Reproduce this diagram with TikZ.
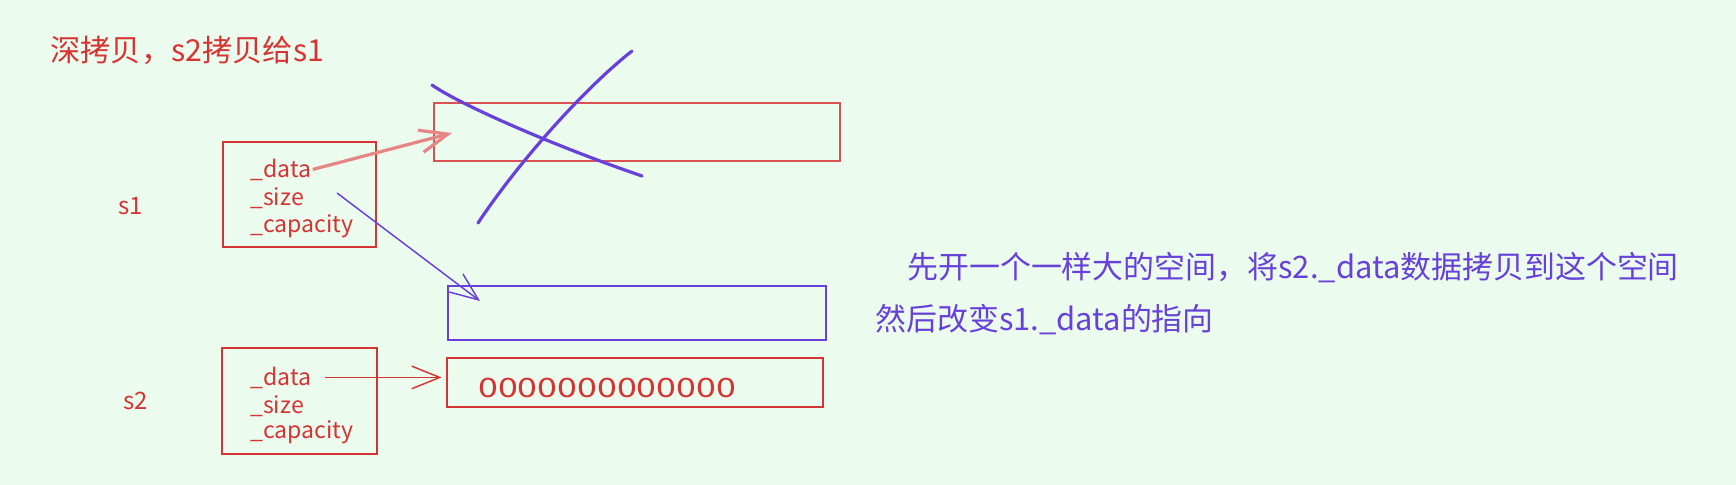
\documentclass[tikz,border=0pt]{standalone}
\usepackage{fontspec}
\usepackage{graphicx}
\setmainfont{Noto Sans CJK SC}
\usetikzlibrary{arrows.meta}
\definecolor{bgc}{HTML}{EBFBEE}
\definecolor{rd}{HTML}{D63333}
\definecolor{pp}{HTML}{6741D9}
\begin{document}
\begin{tikzpicture}[x=0.75pt,y=-0.75pt,
  rbox/.style={draw=rd, line width=1.3pt, inner sep=0pt, outer sep=0pt},
  pbox/.style={draw=pp, line width=1.3pt, inner sep=0pt, outer sep=0pt},
  fld/.style={text=rd, font=\fontsize{17.3}{19}\selectfont, inner sep=0pt, anchor=base west},
  lbl/.style={text=rd, font=\fontsize{18}{20}\selectfont, inner sep=0pt},
  ptxt/.style={text=pp, font=\fontsize{23.2}{26}\selectfont, inner sep=0pt, anchor=base west},
  barb/.style={-{Straight Barb[length=21pt, width=17pt]}},
  cross/.style={draw=pp, line width=2.4pt, line cap=round}
]
\fill[bgc] (0,0) rectangle (1736,485);
\useasboundingbox (0,0) rectangle (1736,485);

% title
\node[text=rd, font=\fontsize{22.7}{25}\selectfont, inner sep=0pt, anchor=west] (title) at (50,50) {深拷贝，s2拷贝给s1};

% labels
\node[lbl] (l1) at (131,206) {s1};
\node[lbl] (l2) at (136,401) {s2};

% s1 struct
\node[rbox, minimum width=114.75pt, minimum height=78.75pt] (s1) at (299.5,194.5) {};
\node[fld] (s1data) at (250,177) {\_data};
\node[fld] (s1size) at (250,205) {\_size};
\node[fld] (s1cap) at (250,232) {\_capacity};

% s2 struct
\node[rbox, minimum width=116.25pt, minimum height=79.5pt] (s2) at (299.5,401) {};
\node[fld] (s2data) at (250,385) {\_data};
\node[fld] (s2size) at (250,413) {\_size};
\node[fld] (s2cap) at (250,438) {\_capacity};

% memory blocks
\node[rbox, draw=rd!85, minimum width=305pt, minimum height=43.5pt] (m1) at (637,132) {};
\node[pbox, minimum width=283.5pt, minimum height=40.5pt] (mn) at (637,313) {};
\node[rbox, minimum width=282pt, minimum height=36.75pt] (m2) at (635,382.5) {};
\node[text=rd, font=\fontsize{20}{22}\selectfont, inner sep=0pt, anchor=base west] (zeros) at (478,397) {\scalebox{1.34}[1]{0000000000000}};

% arrow ends
\coordinate (t1) at (452,133);
\coordinate (p0) at (337,193);
\coordinate (t2) at (480,301);

% connectors
\draw[barb, draw=rd!60, line width=2.4pt] ([xshift=1pt]s1data.east) -- (t1);
\draw[barb, draw=pp, line width=1.1pt] (p0) -- (t2);
\draw[barb, draw=rd, line width=1.1pt] ([xshift=10pt]s2data.east) -- ([xshift=-4pt]s2data.east -| m2.west);

% crossing out
\coordinate (c1a) at (432,85);
\coordinate (c1b) at (642,176);
\coordinate (c2a) at (632,51);
\coordinate (c2b) at (478,223);
\draw[cross] (c1a) .. controls (462,106) and (560,148) .. (c1b);
\draw[cross] (c2a) .. controls (585,88) and (520,160) .. (c2b);

% explanation
\node[ptxt] (e1) at (907,278) {先开一个一样大的空间，将s2.\_data数据拷贝到这个空间};
\node[ptxt] (e2) at (875,330) {然后改变s1.\_data的指向};
\end{tikzpicture}
\end{document}
